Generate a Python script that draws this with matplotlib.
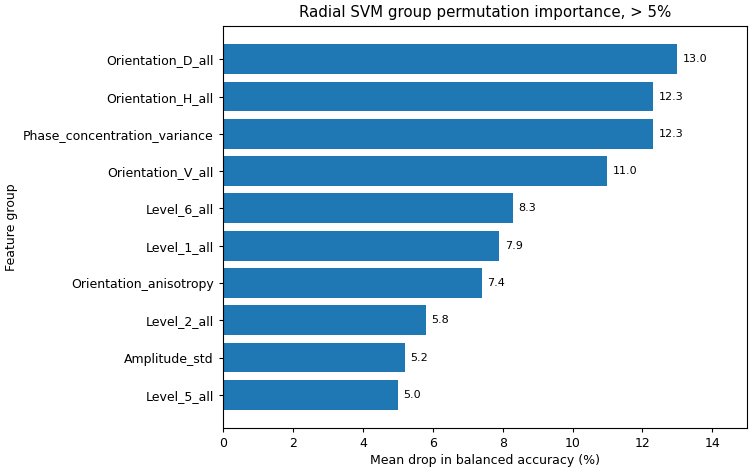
import matplotlib
matplotlib.use("Agg")
import matplotlib.pyplot as plt

features = ["Orientation_D_all", "Orientation_H_all", "Phase_concentration_variance",
            "Orientation_V_all", "Level_6_all", "Level_1_all", "Orientation_anisotropy",
            "Level_2_all", "Amplitude_std", "Level_5_all"]
values = [13.0, 12.3, 12.3, 11.0, 8.3, 7.9, 7.4, 5.8, 5.2, 5.0]

fig, ax = plt.subplots(figsize=(7.54, 4.74), dpi=100)
fig.subplots_adjust(left=0.296, right=0.991, top=0.945, bottom=0.097)
y = list(range(len(features)))[::-1]
bars = ax.barh(y, values, color="#1f77b4", height=0.8)
ax.set_yticks(y)
ax.set_yticklabels(features)
ax.tick_params(labelsize=9, length=3.2)
ax.bar_label(bars, labels=[f"{v:.1f}" for v in values], padding=4, fontsize=8)
ax.set_xlim(0, 15)
ax.set_xticks([0, 2, 4, 6, 8, 10, 12, 14])
ax.set_xlabel("Mean drop in balanced accuracy (%)", fontsize=9, labelpad=2.5)
ax.set_ylabel("Feature group", fontsize=9, labelpad=3.5)
ax.set_title("Radial SVM group permutation importance, > 5%", fontsize=10.8, pad=6.5)
fig.savefig("out.png", dpi=100)
